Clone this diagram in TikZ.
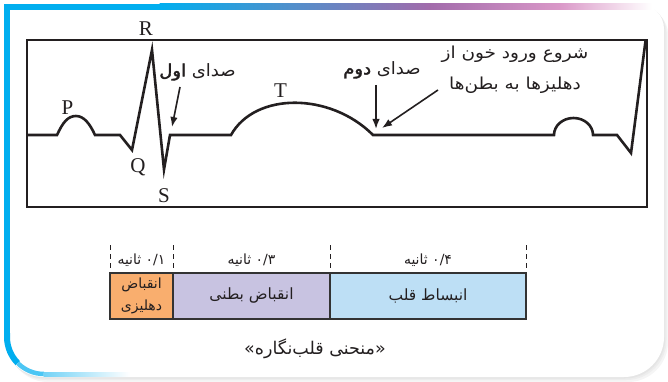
\documentclass[tikz,border=0pt]{standalone}
\usepackage{fontspec}
\setmainfont{Liberation Serif}
\newfontfamily\fa[Script=Arabic]{DejaVu Sans}
\newfontfamily\fas[Script=Arabic,FakeStretch=1.06]{DejaVu Sans}
\newfontfamily\fasb[Script=Arabic,FakeStretch=1.06,FakeBold=2]{DejaVu Sans}
\newfontfamily\faw[Script=Arabic,FakeStretch=1.12]{DejaVu Sans}
\TeXXeTstate=1
\usetikzlibrary{arrows.meta}
\definecolor{cyanc}{HTML}{00AEEF}
\definecolor{bandb}{HTML}{4A92CE}
\definecolor{bandc}{HTML}{A26BAB}
\definecolor{bandd}{HTML}{DA98C8}
\definecolor{bande}{HTML}{F3DCEC}
\definecolor{orangec}{HTML}{F9AE6E}
\definecolor{purplec}{HTML}{C8C3E1}
\definecolor{bluec}{HTML}{BDDFF5}
\definecolor{inkc}{HTML}{231F20}
\definecolor{edgec}{HTML}{333333}
\newcommand\cardpath{(4,-4) -- (639,-4) arc[start angle=90,end angle=0,radius=25] -- (664,-337) arc[start angle=0,end angle=-90,radius=40] -- (44,-377) arc[start angle=270,end angle=180,radius=40] -- cycle}
\tikzset{
  trace/.style={draw=inkc, line width=2.6pt, line join=miter},
  boxline/.style={draw=inkc, line width=1.7pt},
  lbl/.style={font=\fontsize{21}{21}\selectfont, text=inkc, inner sep=0pt, anchor=base},
  fatext/.style={font=\fas\fontsize{17}{20}\selectfont, text=inkc, inner sep=0pt, align=center},
  flowtext/.style={font=\faw\fontsize{16.5}{31}\selectfont, text=inkc, inner sep=0pt, align=center},
  timetext/.style={font=\fa\fontsize{14}{16}\selectfont, text=inkc, inner sep=0pt},
  segtext/.style={font=\fa\fontsize{15.5}{19}\selectfont, text=inkc, inner sep=0pt, align=center},
  captext/.style={font=\fa\fontsize{17.5}{20}\selectfont, text=inkc, inner sep=0pt},
  seg/.style={draw=edgec, line width=1.5pt, minimum height=46pt, inner sep=0pt, outer sep=0pt},
  arr/.style={draw=inkc, line width=1.6pt, -{Latex[length=10pt,width=7.5pt]}},
  tickline/.style={draw=inkc, line width=0.9pt, dash pattern=on 5pt off 4pt},
}
\begin{document}
\begin{tikzpicture}[x=1pt,y=1pt]
\useasboundingbox (0,0) rectangle (668,-382);
% shadow and card
\fill[gray!8, shift={(4,-5)}] \cardpath;
\fill[gray!14, shift={(2.5,-3)}] \cardpath;
\fill[gray!20, shift={(1.2,-1.5)}] \cardpath;
\fill[white] \cardpath;
% top band
\fill[cyanc] (4,-4) rectangle (160,-10);
\shade[left color=cyanc, right color=bandb] (159.5,-4) rectangle (280,-10);
\shade[left color=bandb, right color=bandc] (279.5,-4) rectangle (430,-10);
\shade[left color=bandc, right color=bandd] (429.5,-4) rectangle (560,-10);
\shade[left color=bandd, right color=bande] (559.5,-4) rectangle (620,-10);
\shade[left color=bande, right color=white] (619.5,-4) rectangle (652,-10);
% left border
\fill[cyanc] (4,-4) rectangle (10,-334);
\draw[cyanc, line width=6pt] (7,-333) -- (7,-337) arc[start angle=180,end angle=225,radius=37];
\draw[cyanc!70, line width=4.5pt] (44,-337)+(225:37) arc[start angle=225,end angle=270,radius=37];
\shade[left color=cyanc!55, right color=white] (43.5,-372.5) rectangle (130,-376.5);
% ECG box
\draw[boxline] (27,-40) rectangle (647,-207);
\draw[trace] (28,-135) -- (57,-135) .. controls (63,-122) and (68,-116) .. (76,-116) .. controls (84,-116) and (90,-124) .. (95,-135) -- (120,-135) -- (132,-150) -- (152,-50) -- (164,-169.5) -- (170,-135) -- (231,-135) .. controls (255,-92) and (330,-92) .. (373,-135) -- (554,-135) arc[start angle=180,end angle=0,x radius=19.5,y radius=17] -- (617,-135) -- (631,-153) -- (645.5,-41);
% wave labels
\node[lbl] (R) at (146,-36) {R};
\node[lbl] (P) at (67.5,-115) {P};
\node[lbl] (Q) at (138,-172) {Q};
\node[lbl] (S) at (164,-202) {S};
\node[lbl] (T) at (280.5,-98) {T};
% sound labels
\node[fatext] (first) at (197.5,-72) {\beginR صدای {\fasb اول}\endR};
\node[fatext] (second) at (382,-70) {\beginR صدای {\fasb دوم}\endR};
\node[flowtext] (flow) at (515,-70) {\beginR شروع ورود خون از\endR\\\beginR دهلیزها به بطن‌ها\endR};
\coordinate (a1s) at (180,-87);
\coordinate (a1e) at (172,-127);
\coordinate (a2s) at (376,-85);
\coordinate (a2e) at (376,-129);
\coordinate (a3s) at (438,-90);
\coordinate (a3e) at (382,-128);
\draw[arr] (a1s) -- (a1e);
\draw[arr] (a2s) -- (a2e);
\draw[arr] (a3s) -- (a3e);
% time ticks
\coordinate (t1) at (110,-245);
\coordinate (t2) at (173,-245);
\coordinate (t3) at (330,-245);
\coordinate (t4) at (526,-245);
\draw[tickline] (t1) -- ++(0,-28);
\draw[tickline] (t2) -- ++(0,-28);
\draw[tickline] (t3) -- ++(0,-28);
\draw[tickline] (t4) -- ++(0,-28);
\node[timetext] (d1) at (141.5,-260) {\beginR\beginL ۰/۱\endL{} ثانیه\endR};
\node[timetext] (d2) at (251.5,-260) {\beginR\beginL ۰/۳\endL{} ثانیه\endR};
\node[timetext] (d3) at (428,-260) {\beginR\beginL ۰/۴\endL{} ثانیه\endR};
% phase boxes
\node[seg, fill=orangec, minimum width=63pt] (b1) at (141.5,-296) {};
\node[seg, fill=purplec, minimum width=157pt] (b2) at (251.5,-296) {};
\node[seg, fill=bluec, minimum width=196pt] (b3) at (428,-296) {};
\node[segtext, font=\fa\fontsize{14}{22}\selectfont] (b1t) at (b1) {\beginR انقباض\endR\\\beginR دهلیزی\endR};
\node[segtext] (b2t) at (b2) {\beginR انقباض بطنی\endR};
\node[segtext] (b3t) at (b3) {\beginR انبساط قلب\endR};
% caption
\node[captext] (cap) at (315,-349) {\beginR«منحنی قلب‌نگاره»\endR};
\end{tikzpicture}
\end{document}
